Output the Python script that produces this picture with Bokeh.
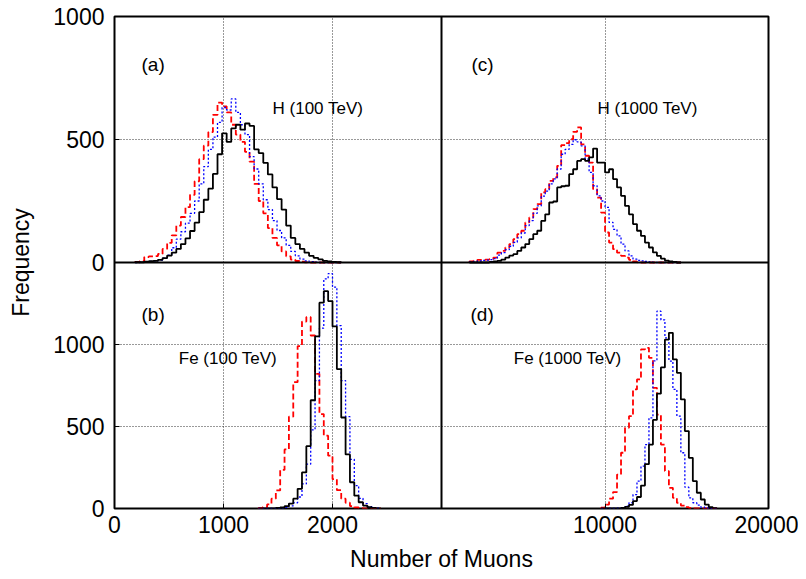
from bokeh.plotting import figure
from bokeh.models import Range1d, FixedTicker, Span, Label
from bokeh.embed import file_html
from bokeh.resources import INLINE

# ---------------- data (bin counts) ----------------
# panel (a): H, 100 TeV   (bins of 42 muons, first edge 189)
A_EDGE0, A_WIDTH = 189, 42
a_black = [1, 1, 3, 5, 7, 11, 18, 28, 40, 55, 75, 98, 128, 162, 205, 255, 300, 360, 440, 525,
           490, 545, 560, 540, 565, 555, 460, 445, 405, 358, 305, 258, 215, 150, 100, 75, 55, 40,
           27, 19, 13, 7, 4, 2, 1]
a_red = [2, 5, 22, 25, 26, 35, 55, 80, 110, 150, 185, 225, 275, 330, 420, 475, 530, 600, 650, 635,
         610, 560, 520, 490, 450, 410, 320, 250, 200, 140, 100, 70, 45, 25, 12, 6, 3, 1, 0, 0,
         0, 0, 0, 0, 0]
a_blue = [0, 1, 2, 4, 6, 10, 18, 30, 60, 95, 125, 160, 200, 250, 320, 390, 460, 510, 570, 630,
          620, 665, 610, 560, 520, 430, 380, 320, 255, 215, 170, 130, 100, 70, 45, 27, 14, 7, 3, 1,
          0, 0, 0, 0, 0]

# panel (b): Fe, 100 TeV   (bins of 40 muons, first edge 1320)
B_EDGE0, B_WIDTH = 1320, 40
b_black = [0, 0, 0, 1, 3, 6, 14, 30, 60, 120, 220, 380, 660, 1050, 1255, 1325, 1265, 1110, 850,
           555, 330, 160, 78, 38, 18, 8, 3, 1]
b_red = [2, 8, 25, 60, 110, 235, 360, 560, 770, 990, 1140, 1167, 1055, 821, 576, 444, 322, 179,
         112, 60, 35, 15, 6, 2, 0, 0, 0, 0]
b_blue = [0, 0, 0, 0, 1, 3, 7, 16, 35, 70, 150, 270, 480, 780, 1100, 1400, 1432, 1350, 1115, 780,
          560, 300, 140, 62, 30, 12, 5, 2]

# panel (c): H, 1000 TeV   (bins of 244 muons, first edge 1708)
C_EDGE0, C_WIDTH = 1708, 244
c_black = [0, 0, 0, 0, 0, 2, 4, 7, 12, 20, 28, 34, 47, 61, 75, 95, 115, 129, 169, 196, 244, 248,
           305, 310, 312, 359, 379, 413, 420, 413, 427, 463, 406, 406, 366, 379, 339, 305, 271,
           230, 196, 156, 129, 108, 81, 61, 41, 27, 16, 8, 4, 2, 0]
c_red = [4, 8, 11, 11, 12, 14, 20, 40, 47, 61, 75, 95, 115, 129, 163, 183, 217, 237, 285, 298,
         332, 346, 393, 477, 485, 501, 531, 549, 480, 434, 406, 298, 264, 203, 122, 81, 54, 40,
         27, 20, 11, 4, 1, 0, 0, 0, 0, 0, 0, 0, 0, 0, 0]
c_blue = [2, 4, 6, 9, 10, 12, 16, 30, 40, 52, 66, 82, 100, 120, 150, 170, 200, 230, 270, 290,
          320, 340, 380, 440, 460, 480, 499, 490, 474, 420, 366, 312, 271, 250, 224, 163, 135,
          108, 75, 47, 27, 14, 9, 7, 4, 2, 0, 0, 0, 0, 0, 0, 0]

# panel (d): Fe, 1000 TeV   (bins of 244 muons, first edge 9760)
D_EDGE0, D_WIDTH = 9760, 244
d_black = [0, 0, 0, 0, 0, 3, 10, 22, 45, 70, 140, 270, 390, 540, 700, 860, 1030, 1071, 909, 827,
           665, 472, 309, 167, 96, 55, 24, 8, 2]
d_red = [5, 24, 60, 100, 207, 340, 492, 563, 726, 787, 970, 980, 919, 736, 573, 390, 228, 126,
         65, 35, 18, 8, 3, 0, 0, 0, 0, 0, 0]
d_blue = [0, 0, 0, 1, 2, 5, 14, 35, 85, 167, 258, 390, 553, 900, 1203, 1150, 1040, 899, 726,
          563, 340, 130, 65, 35, 20, 8, 3, 0, 0]

# axis scales of the four panels
LEFT_MAX = 3000      # muons, panels (a),(b)
RIGHT_MAX = 20000    # muons, panels (c),(d)
TOP_MAX = 1000       # frequency, panels (a),(c)
BOTTOM_MAX = 1500    # frequency, panels (b),(d)
left_ticks = [0, 1000, 2000]
right_ticks = [10000, 20000]
bottom_yticks = [0, 500, 1000]
top_yticks = [0, 500, 1000]

panel_text = [
    # text, x, y, xrange, yrange, size
    ("(a)", 248, 805, "default", "top", "19px"),
    ("H (100 TeV)", 1450, 626, "default", "top", "17px"),
    ("(c)", 1835, 805, "right", "top", "19px"),
    ("H (1000 TeV)", 9541, 626, "right", "top", "17px"),
    ("(b)", 248, 1185, "default", "default", "19px"),
    ("Fe (100 TeV)", 590, 913, "default", "default", "17px"),
    ("(d)", 1774, 1185, "right", "default", "19px"),
    ("Fe (1000 TeV)", 4422, 913, "right", "default", "17px"),
]

FONT = "Liberation Sans"

# the frame holds the four panels: left half = 0..LEFT_MAX, right half = 0..RIGHT_MAX,
# lower half = 0..BOTTOM_MAX, upper half = 0..TOP_MAX
p = figure(frame_width=654, frame_height=492,
           x_range=Range1d(0, 2 * LEFT_MAX), y_range=Range1d(0, 2 * BOTTOM_MAX),
           output_backend="svg", toolbar_location=None,
           min_border_left=114, min_border_top=16, min_border_right=30, min_border_bottom=10)
p.extra_x_ranges = {"right": Range1d(-RIGHT_MAX, RIGHT_MAX)}
p.extra_y_ranges = {"top": Range1d(-TOP_MAX, TOP_MAX)}


def right_to_default(v):
    return int(round(LEFT_MAX + v * LEFT_MAX / RIGHT_MAX))


def top_to_default(v):
    return int(round(BOTTOM_MAX + v * BOTTOM_MAX / TOP_MAX))


xpos = list(left_ticks) + [right_to_default(v) for v in right_ticks]
xover = {right_to_default(v): str(v) for v in right_ticks}
ypos = list(bottom_yticks) + [top_to_default(v) for v in top_yticks]
yover = {top_to_default(v): str(v) for v in top_yticks}

p.xaxis.ticker = FixedTicker(ticks=xpos)
p.xaxis.major_label_overrides = xover
p.yaxis.ticker = FixedTicker(ticks=ypos)
p.yaxis.major_label_overrides = yover
p.xaxis.axis_label = "Number of Muons"
p.yaxis.axis_label = "Frequency"

for ax in (p.xaxis, p.yaxis):
    ax.major_label_text_font = FONT
    ax.major_label_text_font_size = "23px"
    ax.major_label_text_color = "black"
    ax.axis_label_text_font = FONT
    ax.axis_label_text_font_size = "23px"
    ax.axis_label_text_font_style = "normal"
    ax.axis_label_text_color = "black"
    ax.major_tick_in = 5
    ax.major_tick_out = 0
    ax.major_tick_line_color = "black"
    ax.major_tick_line_width = 1
    ax.minor_tick_line_color = None
    ax.axis_line_color = None
p.yaxis.major_label_standoff = 10
p.yaxis.axis_label_standoff = 16
p.xaxis.major_label_standoff = 7
p.xaxis.axis_label_standoff = 10

p.grid.grid_line_color = "#333333"
p.grid.grid_line_dash = "1 2"
p.grid.grid_line_width = 1

p.outline_line_color = "black"
p.outline_line_width = 2
p.background_fill_color = "white"
p.border_fill_color = "white"


def step_xy(edge0, width, counts):
    edges = [edge0 + i * width for i in range(len(counts) + 1)]
    return [edges[0]] + edges, [0] + list(counts) + [0]


styles = {
    "red": dict(line_color="#ff0000", line_width=1.8, line_dash="6 3"),
    "blue": dict(line_color="#0000ff", line_width=1.3, line_dash="2 2"),
    "black": dict(line_color="black", line_width=1.8),
}

panels = [
    (A_EDGE0, A_WIDTH, {"red": a_red, "blue": a_blue, "black": a_black}, "default", "top"),
    (B_EDGE0, B_WIDTH, {"red": b_red, "blue": b_blue, "black": b_black}, "default", "default"),
    (C_EDGE0, C_WIDTH, {"red": c_red, "blue": c_blue, "black": c_black}, "right", "top"),
    (D_EDGE0, D_WIDTH, {"red": d_red, "blue": d_blue, "black": d_black}, "right", "default"),
]

for e0, w, series, xr, yr in panels:
    for name in ("red", "blue", "black"):
        xs, ys = step_xy(e0, w, series[name])
        p.step(xs, ys, mode="after", x_range_name=xr, y_range_name=yr, **styles[name])

# panel separators
p.add_layout(Span(location=LEFT_MAX, dimension="height", line_color="black", line_width=2))
p.add_layout(Span(location=BOTTOM_MAX, dimension="width", line_color="black", line_width=2))

for text, x, y, xr, yr, size in panel_text:
    p.add_layout(Label(x=x, y=y, x_range_name=xr, y_range_name=yr, text=text,
                       text_font=FONT, text_font_size=size, text_color="black",
                       text_align="left", text_baseline="middle"))

open("out.html", "w").write(file_html(p, INLINE))
